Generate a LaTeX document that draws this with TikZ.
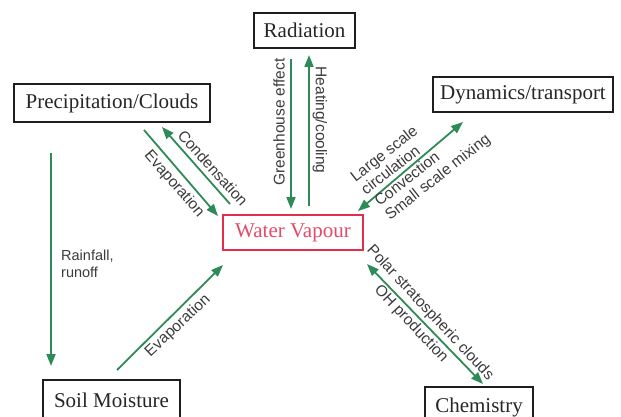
\documentclass[tikz,border=0pt]{standalone}
\usepackage{fontspec}
\setmainfont{Liberation Serif}
\newfontfamily\lblfont{Liberation Sans}
\usetikzlibrary{arrows.meta}
\definecolor{arrgreen}{RGB}{46,139,87}
\definecolor{wvred}{RGB}{228,45,75}
\definecolor{wvtext}{RGB}{228,75,105}
\definecolor{lblgray}{RGB}{60,60,60}
\definecolor{boxline}{RGB}{30,30,30}
\tikzset{
  box/.style={draw=boxline, line width=2pt, inner sep=0pt, font=\fontsize{21}{24}\selectfont, text=black!85},
  wvbox/.style={draw=wvred, line width=1.8pt, inner sep=0pt, font=\fontsize{21}{24}\selectfont, text=wvtext},
  flow/.style={draw=arrgreen, line width=1.8pt, -{Triangle[length=12pt,width=9pt]}},
  bflow/.style={draw=arrgreen, line width=1.8pt, {Triangle[length=12pt,width=9pt]}-{Triangle[length=12pt,width=9pt]}},
  lbl/.style={font=\lblfont\fontsize{15.5}{17}\selectfont, text=lblgray, inner sep=0pt}
}
\begin{document}
\begin{tikzpicture}[x=1pt,y=-1pt]
\useasboundingbox (0,0) rectangle (621,417);
\clip (0,0) rectangle (621,417);
\fill[white] (0,0) rectangle (621,417);

% boxes
\node[box, minimum width=101pt, minimum height=35pt] (rad) at (304.5,30.5) {Radiation};
\node[box, minimum width=196pt, minimum height=38pt] (pc) at (112,103) {Precipitation/Clouds};
\node[box, minimum width=180pt, minimum height=35pt] (dyn) at (523,94.5) {Dynamics/transport};
\node[wvbox, minimum width=140pt, minimum height=35pt] (wv) at (293,232.5) {Water Vapour};
\node[box, minimum width=137pt, minimum height=40pt] (soil) at (111.5,400) {Soil Moisture};
\node[box, minimum width=108pt, minimum height=40pt] (chem) at (479,407) {Chemistry};

% arrow end points
\coordinate (evA) at (144,130);  \coordinate (evB) at (218,216);
\coordinate (coA) at (230,204);  \coordinate (coB) at (162,127);
\coordinate (grA) at (291,59);   \coordinate (grB) at (291,209);
\coordinate (heA) at (309,206);  \coordinate (heB) at (309,55);
\coordinate (lsA) at (358,211);  \coordinate (lsB) at (463,122);
\coordinate (poA) at (367,264);  \coordinate (poB) at (483,384);
\coordinate (raA) at (51,153);   \coordinate (raB) at (51,366);
\coordinate (seA) at (117,370);  \coordinate (seB) at (223,265);

% arrows
\draw[flow] (evA) -- (evB);
\draw[flow] (coA) -- (coB);
\draw[flow] (grA) -- (grB);
\draw[flow] (heA) -- (heB);
\draw[bflow] (lsA) -- (lsB);
\draw[bflow] (poA) -- (poB);
\draw[flow] (raA) -- (raB);
\draw[flow] (seA) -- (seB);

% labels
\node[lbl, rotate=-48] (lcond) at (213,168) {Condensation};
\node[lbl, rotate=-49] (levap) at (174,184) {Evaporation};
\node[lbl, rotate=90] (lgreen) at (279,122) {Greenhouse effect};
\node[lbl, rotate=-90] (lheat) at (320,120) {Heating/cooling};
\node[lbl, rotate=38, align=left] (llarge) at (389,160) {Large scale\\circulation};
\node[lbl, rotate=38, align=left] (lconv) at (433,171) {Convection\\Small scale mixing};
\node[lbl, rotate=-47] (lpolar) at (430,313) {Polar stratospheric clouds};
\node[lbl, rotate=-47] (loh) at (411,324) {OH production};
\node[lbl, align=left, anchor=north west, font=\lblfont\fontsize{14.5}{16.5}\selectfont] (lrain) at (61,250) {Rainfall,\\runoff};
\node[lbl, rotate=43] (lsevap) at (178,326) {Evaporation};
\end{tikzpicture}
\end{document}
